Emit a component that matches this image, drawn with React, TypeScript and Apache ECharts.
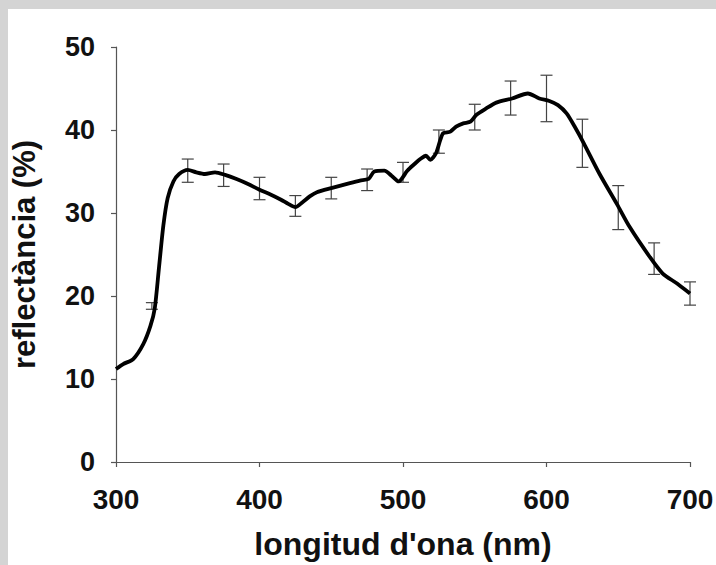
import React, { useEffect, useRef } from "react";
import * as echarts from "echarts";

const wavelengths = [300, 305, 312, 319, 324, 327, 330, 333, 336, 340, 344, 350, 356, 362, 369, 376, 384, 392, 400, 408, 415, 420, 425, 430, 435, 440, 450, 463, 470, 476, 480, 487, 492, 497, 503, 508, 512, 516, 519, 523, 526, 528, 533, 537, 542, 547, 551, 558, 565, 576, 587, 595, 602, 608, 614, 620, 626, 637, 649, 658, 672, 681, 691, 700];
const reflectance = [11.2, 11.8, 12.4, 14.2, 16.4, 18.5, 23.5, 28.5, 31.8, 33.8, 34.7, 35.2, 34.9, 34.7, 34.9, 34.6, 34.1, 33.5, 32.8, 32.2, 31.6, 31.1, 30.7, 31.3, 32.0, 32.5, 33.0, 33.6, 33.9, 34.1, 35.0, 35.1, 34.5, 33.8, 35.1, 35.9, 36.5, 36.9, 36.4, 37.2, 38.8, 39.6, 39.8, 40.4, 40.8, 41.0, 41.8, 42.6, 43.3, 43.8, 44.4, 43.8, 43.5, 43.0, 42.0, 40.3, 38.4, 34.7, 31.1, 28.3, 24.7, 22.7, 21.5, 20.3];

const errWavelengths = [325, 350, 375, 400, 425, 450, 475, 500, 525, 550, 575, 600, 625, 650, 675, 700];
const errLow = [18.4, 33.7, 33.2, 31.6, 29.6, 31.7, 32.7, 33.7, 37.2, 40.0, 41.8, 41.0, 35.5, 28.0, 22.6, 18.9];
const errHigh = [19.2, 36.5, 35.9, 34.3, 32.1, 34.3, 35.3, 36.1, 40.0, 43.1, 45.9, 46.6, 41.3, 33.3, 26.4, 21.7];

const xTicks = [300, 400, 500, 600, 700];
const yTicks = [0, 10, 20, 30, 40, 50];

const FONT = "'Liberation Sans', Arial, sans-serif";

export default function App() {
  const ref = useRef<HTMLDivElement>(null);

  useEffect(() => {
    document.body.style.margin = "0";
    if (!ref.current) return;
    const chart = echarts.init(ref.current, undefined, { renderer: "svg" });
    const lineData = wavelengths.map((w, i) => [w, reflectance[i]]);
    const errData = errWavelengths.map((w, i) => [w, errLow[i], errHigh[i]]);
    chart.setOption({
      animation: false,
      backgroundColor: "#ffffff",
      grid: { left: 108, right: 26, top: 38, bottom: 103, containLabel: false, outerBoundsMode: "none" },
      xAxis: {
        type: "value",
        min: xTicks[0],
        max: xTicks[xTicks.length - 1],
        interval: 100,
        name: "longitud d'ona (nm)",
        nameLocation: "middle",
        nameGap: 66,
        nameTextStyle: { fontFamily: FONT, fontWeight: "bold", fontSize: 32, color: "#111" },
        axisLine: { show: true, onZero: false, lineStyle: { color: "#555", width: 1.2 } },
        axisTick: { show: true, length: 5, lineStyle: { color: "#555", width: 1.2 } },
        axisLabel: { fontFamily: FONT, fontWeight: "bold", fontSize: 28, color: "#111", margin: 23 },
        splitLine: { show: false },
      },
      yAxis: {
        type: "value",
        min: yTicks[0],
        max: yTicks[yTicks.length - 1],
        interval: 10,
        name: "reflectància (%)",
        nameLocation: "middle",
        nameGap: 76,
        nameTextStyle: { fontFamily: FONT, fontWeight: "bold", fontSize: 31, color: "#111" },
        axisLine: { show: true, lineStyle: { color: "#555", width: 1.2 } },
        axisTick: { show: true, length: 5, lineStyle: { color: "#555", width: 1.2 } },
        axisLabel: { fontFamily: FONT, fontWeight: "bold", fontSize: 27, color: "#111", margin: 21 },
        splitLine: { show: false },
      },
      series: [
        {
          type: "custom",
          name: "error",
          data: errData,
          encode: { x: 0, y: [1, 2] },
          z: 1,
          renderItem: (params: any, api: any) => {
            const x = api.value(0);
            const lo = api.coord([x, api.value(1)]);
            const hi = api.coord([x, api.value(2)]);
            const hw = 6;
            const style = { stroke: "#444", lineWidth: 1.2, fill: "none" };
            return {
              type: "group",
              children: [
                { type: "line", shape: { x1: lo[0], y1: lo[1], x2: hi[0], y2: hi[1] }, style },
                { type: "line", shape: { x1: lo[0] - hw, y1: lo[1], x2: lo[0] + hw, y2: lo[1] }, style },
                { type: "line", shape: { x1: hi[0] - hw, y1: hi[1], x2: hi[0] + hw, y2: hi[1] }, style },
              ],
            };
          },
        },
        {
          type: "line",
          name: "reflectància",
          data: lineData,
          showSymbol: false,
          smooth: 0.25,
          z: 3,
          lineStyle: { color: "#000", width: 3.8 },
        },
      ],
    });
    return () => chart.dispose();
  }, []);

  return (
    <div style={{ position: "relative", width: 716, height: 565, background: "#d4d4d4", overflow: "hidden" }}>
      <div ref={ref} style={{ position: "absolute", left: 8, top: 9, width: 708, height: 556, background: "#fff" }} />
    </div>
  );
}
